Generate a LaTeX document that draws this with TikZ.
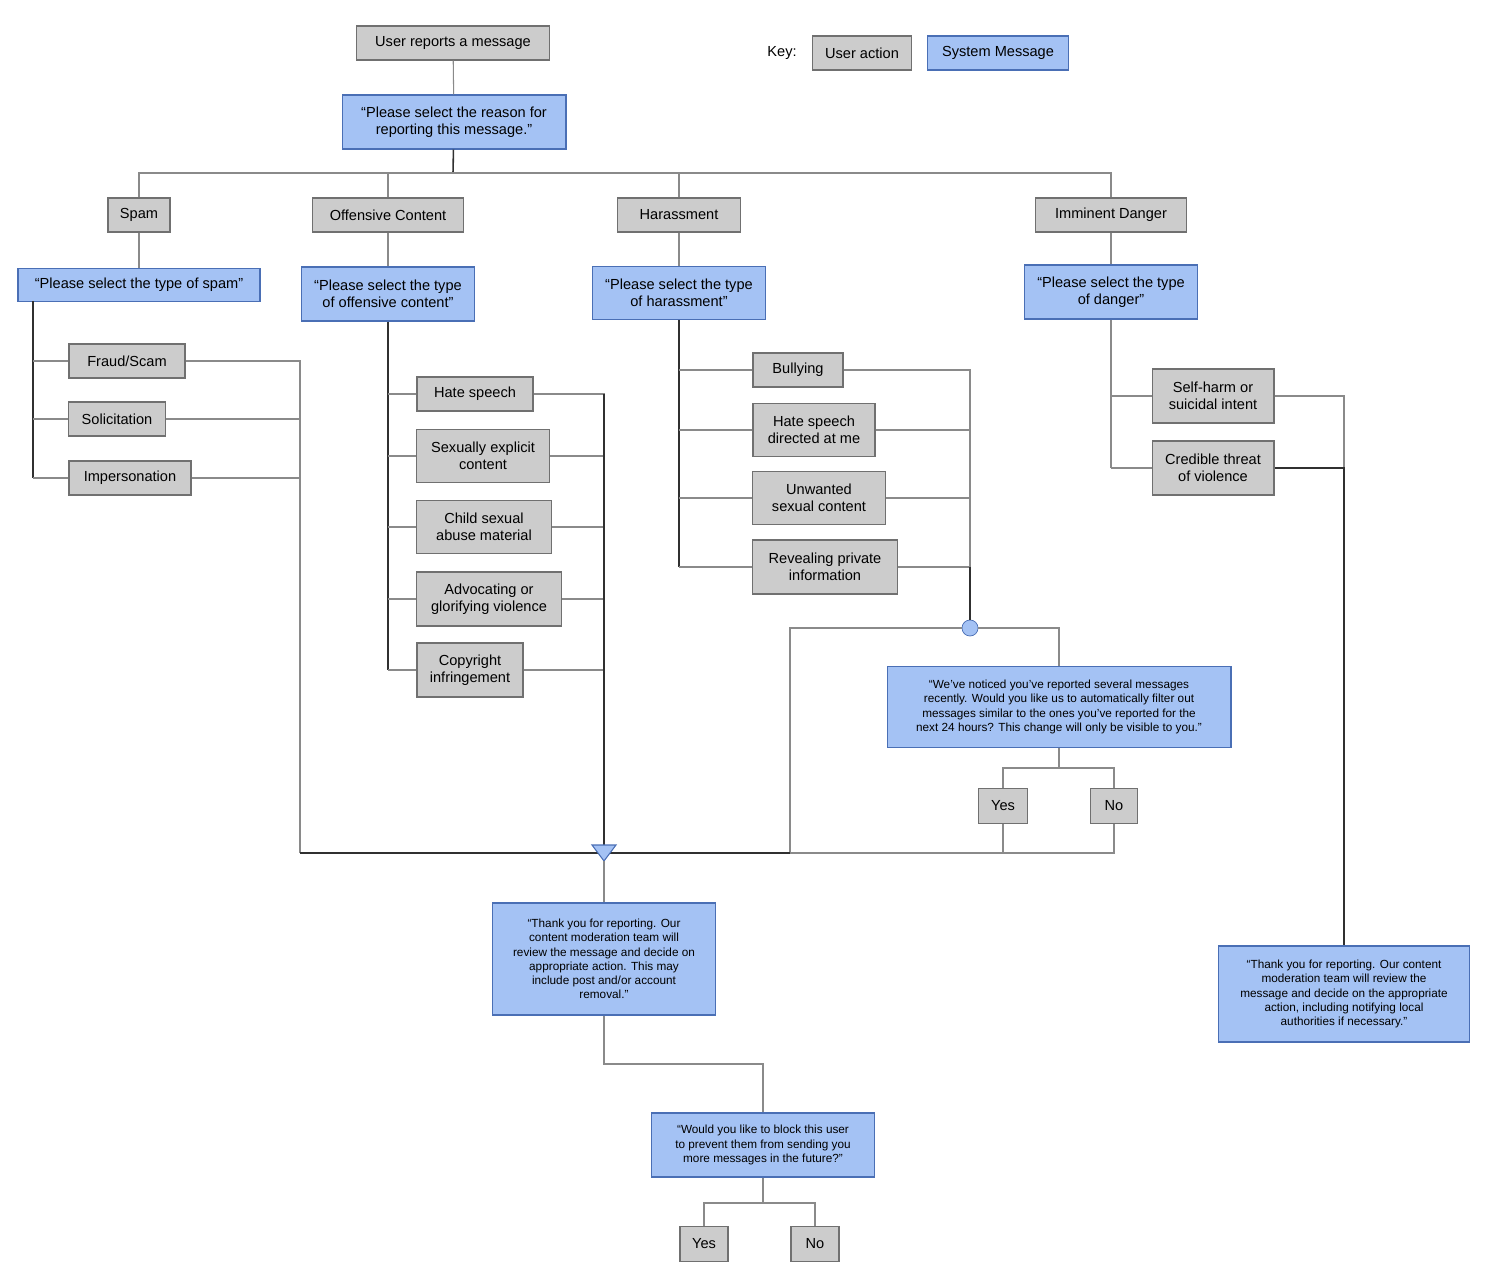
\documentclass[tikz,border=0pt]{standalone}
\usepackage{fontspec}
\setmainfont{Liberation Sans}
\definecolor{sysblue}{HTML}{A4C2F4}
\definecolor{sysedge}{HTML}{4A6FB5}
\definecolor{actgray}{HTML}{CCCCCC}
\definecolor{actedge}{HTML}{707070}
\definecolor{wire}{HTML}{8A8A8A}
\definecolor{trunk}{HTML}{303030}
\tikzset{
  act/.style={draw=actedge, fill=actgray, line width=0.6pt, inner sep=1pt, align=center,
    font=\fontsize{8.3}{9.6}\selectfont, minimum height=0.68cm},
  sys/.style={draw=sysedge, fill=sysblue, line width=0.6pt, inner sep=1pt, align=center,
    font=\fontsize{8.3}{9.6}\selectfont},
  small/.style={font=\fontsize{6.7}{8.1}\selectfont},
  flow/.style={draw=wire, line width=0.6pt},
  main/.style={draw=trunk, line width=0.9pt},
}
\begin{document}
\begin{tikzpicture}[x=0.02cm, y=-0.02cm]
	\useasboundingbox (0,0) rectangle (1490,1266);

	% key
	\node at (782,53) {\fontsize{8.3}{9.6}\selectfont Key:};
	\node [act, minimum width=1.98cm] (keyact) at (862,53) {User action};
	\node [sys, minimum width=2.82cm, minimum height=0.68cm] (keysys) at (998,53) {System Message};

	% top
	\node [act, minimum width=3.86cm] (report) at (453,43) {User reports a message};
	\node [sys, minimum width=4.48cm, minimum height=1.08cm] (reason) at (454,122) {“Please select the reason for\\reporting this message.”};

	% categories
	\node [act, minimum width=1.24cm] (spam) at (139,215) {Spam};
	\node [act, minimum width=3.02cm] (offensive) at (388,215) {Offensive Content};
	\node [act, minimum width=2.46cm] (harass) at (679,215) {Harassment};
	\node [act, minimum width=3.02cm] (danger) at (1111,215) {Imminent Danger};

	% questions
	\node [sys, minimum width=4.84cm, minimum height=0.66cm] (spamq) at (139,285) {“Please select the type of spam”};
	\node [sys, minimum width=3.46cm, minimum height=1.08cm] (offq) at (388,294) {“Please select the type\\of offensive content”};
	\node [sys, minimum width=3.46cm, minimum height=1.06cm] (harq) at (679,293) {“Please select the type\\of harassment”};
	\node [sys, minimum width=3.46cm, minimum height=1.08cm] (danq) at (1111,292) {“Please select the type\\of danger”};

	% spam items
	\node [act, minimum width=2.32cm] (fraud) at (127,361) {Fraud/Scam};
	\node [act, minimum width=1.94cm] (solic) at (117,419) {Solicitation};
	\node [act, minimum width=2.44cm] (imperson) at (130,478) {Impersonation};

	% offensive items
	\node [act, minimum width=2.32cm] (hate) at (475,394) {Hate speech};
	\node [act, minimum width=2.66cm, minimum height=1.06cm] (sexual) at (483,456) {Sexually explicit\\content};
	\node [act, minimum width=2.70cm, minimum height=1.06cm] (csam) at (484,527) {Child sexual\\abuse material};
	\node [act, minimum width=2.90cm, minimum height=1.08cm] (advocate) at (489,599) {Advocating or\\glorifying violence};
	\node [act, minimum width=2.12cm, minimum height=1.08cm] (copyright) at (470,670) {Copyright\\infringement};

	% harassment items
	\node [act, minimum width=1.80cm] (bully) at (798,370) {Bullying};
	\node [act, minimum width=2.44cm, minimum height=1.06cm] (hateme) at (814,430) {Hate speech\\directed at me};
	\node [act, minimum width=2.66cm, minimum height=1.06cm] (unwanted) at (819,498) {Unwanted\\sexual content};
	\node [act, minimum width=2.90cm, minimum height=1.08cm] (reveal) at (825,567) {Revealing private\\information};

	% danger items
	\node [act, minimum width=2.44cm, minimum height=1.08cm] (selfharm) at (1213,396) {Self-harm or\\suicidal intent};
	\node [act, minimum width=2.44cm, minimum height=1.08cm] (credible) at (1213,468) {Credible threat\\of violence};

	% filter question
	\node [circle, draw=sysedge, fill=sysblue, minimum size=0.32cm, inner sep=0pt] (circ) at (970,628) {};
	\node [sys, small, minimum width=6.88cm, minimum height=1.62cm] (noticed) at (1059,707) {“We’ve noticed you’ve reported several messages\\recently. Would you like us to automatically filter out\\messages similar to the ones you’ve reported for the\\next 24 hours? This change will only be visible to you.”};
	\node [act, minimum width=0.98cm, minimum height=0.70cm] (yesa) at (1003,806) {Yes};
	\node [act, minimum width=0.94cm, minimum height=0.70cm] (noa) at (1114,806) {No};

	% endings
	\node [sys, small, minimum width=4.46cm, minimum height=2.24cm] (thanks) at (604,959) {“Thank you for reporting. Our\\content moderation team will\\review the message and decide on\\appropriate action. This may\\include post and/or account\\removal.”};
	\node [sys, small, minimum width=5.02cm, minimum height=1.92cm] (thanksd) at (1344,994) {“Thank you for reporting. Our content\\moderation team will review the\\message and decide on the appropriate\\action, including notifying local\\authorities if necessary.”};
	\node [sys, small, minimum width=4.46cm, minimum height=1.28cm] (block) at (763,1145) {“Would you like to block this user\\to prevent them from sending you\\more messages in the future?”};
	\node [act, minimum width=0.96cm, minimum height=0.70cm] (yesb) at (704,1244) {Yes};
	\node [act, minimum width=0.96cm, minimum height=0.70cm] (nob) at (815,1244) {No};

	% helper points
	\coordinate (bus) at (453,173);
	\coordinate (spamt) at (33,301);
	\coordinate (spamr) at (300,853);
	\coordinate (merge) at (604,845);
	\coordinate (loopl) at (790,853);
	\coordinate (yesbus) at (1059,768);
	\coordinate (bend) at (763,1064);
	\coordinate (blockbus) at (763,1203);

	% top connectors
	\draw [flow] (report) -- (reason);
	\draw [main] (reason) -- (bus);
	\foreach \c in {spam, offensive, harass, danger}
		\draw [flow] (\c.north) |- (bus);
	\draw [flow] (spam) -- (spamq);
	\draw [flow] (offensive) -- (offq);
	\draw [flow] (harass) -- (harq);
	\draw [flow] (danger) -- (danq);

	% spam branch
	\draw [main] (spamt) -- (spamt |- imperson);
	\foreach \i in {fraud, solic, imperson} {
		\draw [flow] (\i.west) -- (\i.west -| spamt);
		\draw [flow] (\i.east) -| (spamr);
	}

	% offensive branch
	\draw [main] (offq) -- (offq |- copyright);
	\foreach \i in {hate, sexual, csam, advocate, copyright} {
		\draw [flow] (\i.west) -- (\i.west -| offq);
		\draw [flow] (\i.east) -| (merge);
	}
	\draw [main] (merge |- hate) -- (merge);

	% harassment branch
	\draw [main] (harq) -- (harq |- reveal);
	\foreach \i in {bully, hateme, unwanted, reveal} {
		\draw [flow] (\i.west) -- (\i.west -| harq);
		\draw [flow] (\i.east) -| (circ);
	}
	\draw [main] (circ |- reveal) -- (circ);

	% danger branch
	\draw [flow] (danq) -- (danq |- credible);
	\foreach \i in {selfharm, credible}
		\draw [flow] (\i.west) -- (\i.west -| danq);
	\draw [flow] (selfharm.east) -| (thanksd);
	\draw [main] (credible.east) -| (thanksd);

	% filter loop
	\draw [flow] (circ) -| (loopl);
	\draw [flow] (circ) -| (noticed);
	\draw [flow] (noticed) -- (yesbus);
	\draw [flow] (yesa) |- (yesbus) -| (noa);
	\draw [main] (spamr) -- (loopl);
	\draw [flow] (loopl) -- (noa.south |- loopl) -- (noa.south);
	\draw [flow] (yesa.south) -- (yesa.south |- loopl);

	% merge triangle
	\draw [draw=sysedge, fill=sysblue, line width=0.6pt] (merge) ++(-12,0) -- ++(24,0) -- ++(-12,16) -- cycle;
	\draw [flow] (604,861) -- (thanks);

	% block question
	\draw [flow] (thanks.south) |- (bend) -- (block);
	\draw [flow] (block) -- (blockbus);
	\draw [flow] (yesb) |- (blockbus) -| (nob);
\end{tikzpicture}
\end{document}
